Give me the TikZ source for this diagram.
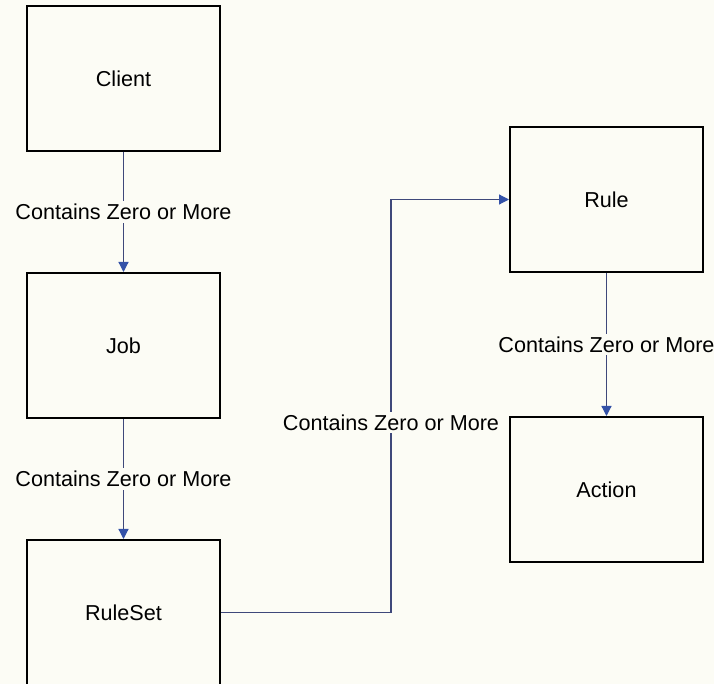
\documentclass[tikz,border=0pt]{standalone}
\usepackage{fontspec}
\setmainfont{Liberation Sans}
\usetikzlibrary{positioning,arrows.meta}
\definecolor{paper}{RGB}{252,252,245}
\definecolor{wire}{RGB}{62,72,122}
\definecolor{tipblue}{RGB}{52,82,168}
\tikzset{
  entity/.style={draw=black,line width=1pt,fill=paper,minimum width=96.5pt,minimum height=72.5pt,inner sep=0pt},
  link/.style={draw=wire,line width=0.6pt,-{Triangle[length=5pt,width=5pt,fill=tipblue,color=tipblue]}},
  lbl/.style={fill=paper,inner sep=1.5pt}
}

\begin{document}
\begin{tikzpicture}[x=0.5pt,y=-0.5pt,font=\fontsize{10.8}{12}\selectfont,node distance=60pt]
  \fill[paper] (0,0) rectangle (714,684);
  \useasboundingbox (0,0) rectangle (714,684);
  \node[entity] at (123.5,78.5) (client) {Client};
  \node[entity,below=of client] (job) {Job};
  \node[entity,below=of job] (ruleset) {RuleSet};
  \node[entity] at (606.5,199.5) (rule) {Rule};
  \node[entity,below=71.5pt of rule] (action) {Action};
  \draw[link] (client) -- node[lbl] {Contains Zero or More} (job);
  \draw[link] (job) -- node[lbl] {Contains Zero or More} (ruleset);
  \draw[link] (rule) -- node[lbl] {Contains Zero or More} (action);
  \draw[link] (ruleset.east) -- ++(170,0) |- node[lbl,pos=0.23] {Contains Zero or More} (rule.west);
\end{tikzpicture}
\end{document}
